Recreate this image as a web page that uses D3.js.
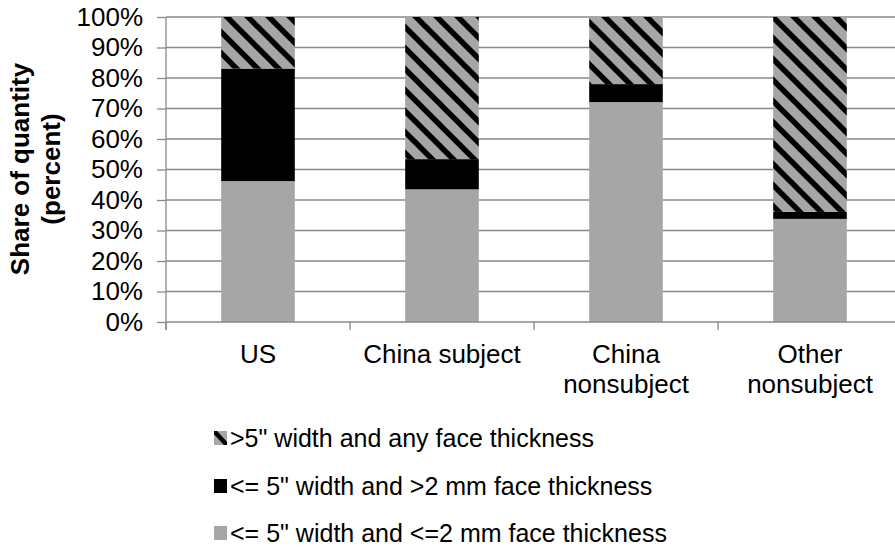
<!DOCTYPE html>
<html>
<head>
<meta charset="utf-8">
<script src="https://cdn.jsdelivr.net/npm/d3@7/dist/d3.min.js"></script>
<style>
  html, body { margin: 0; padding: 0; background: #fff; }
  svg { display: block; font-family: "Liberation Sans", Arial, Helvetica, sans-serif; }
</style>
</head>
<body>
<svg id="chart" width="895" height="548"></svg>
<script>
// Categories and stacked shares (percent of quantity)
const categories = ["US", "China subject", "China nonsubject", "Other nonsubject"];
const categoryLabels = [["US"], ["China subject"], ["China", "nonsubject"], ["Other", "nonsubject"]];
const thinFace = [46.2, 43.5, 72.1, 33.8];   // <= 5" width and <=2 mm face thickness
const thickFace = [36.9, 9.9, 5.9, 2.3];     // <= 5" width and >2 mm face thickness
const wideAny = [16.9, 46.6, 22.0, 63.9];    // >5" width and any face thickness
const yTicks = [0, 10, 20, 30, 40, 50, 60, 70, 80, 90, 100];

const seriesNames = [
  "<= 5\" width and <=2 mm face thickness",
  "<= 5\" width and >2 mm face thickness",
  ">5\" width and any face thickness"
];
const seriesKeys = ["thin", "thick", "wide"];

const rows = categories.map((c, i) => ({
  category: c,
  thin: thinFace[i],
  thick: thickFace[i],
  wide: wideAny[i]
}));

const svg = d3.select("#chart");
const plotLeft = 166, plotRight = 902, plotTop = 17, plotBottom = 322;
const fontSize = 26;

const x = d3.scaleBand().domain(categories).range([plotLeft, plotRight]).paddingInner(0.6).paddingOuter(0.3);
const y = d3.scaleLinear().domain([0, 100]).range([plotBottom, plotTop]);

const grey = "#a6a6a6";
const axisGrey = "#898989";

// Diagonal hatch used for the ">5 inch" segment
const defs = svg.append("defs");
const pat = defs.append("pattern")
  .attr("id", "hatch")
  .attr("patternUnits", "userSpaceOnUse")
  .attr("width", 21).attr("height", 21);
pat.append("rect").attr("width", 21).attr("height", 21).attr("fill", grey);
pat.append("path")
  .attr("d", "M-6,-6L27,27M-6,15L6,27M15,-6L27,6")
  .attr("stroke", "#000").attr("stroke-width", 5.5);

const fills = { thin: grey, thick: "#000", wide: "url(#hatch)" };

// Horizontal gridlines
svg.append("g")
  .selectAll("line")
  .data(yTicks.filter(d => d > 0))
  .join("line")
  .attr("x1", plotLeft).attr("x2", plotRight)
  .attr("y1", d => y(d)).attr("y2", d => y(d))
  .attr("stroke", axisGrey).attr("stroke-width", 1.3);

// Stacked bars
const stack = d3.stack().keys(seriesKeys);
const layers = stack(rows);
svg.append("g")
  .selectAll("g")
  .data(layers)
  .join("g")
  .attr("fill", d => fills[d.key])
  .selectAll("rect")
  .data(d => d)
  .join("rect")
  .attr("x", d => x(d.data.category))
  .attr("width", x.bandwidth())
  .attr("y", d => y(d[1]))
  .attr("height", d => y(d[0]) - y(d[1]));

// Y axis
const yAxis = svg.append("g")
  .attr("transform", `translate(${plotLeft},0)`)
  .call(d3.axisLeft(y).tickValues(yTicks).tickFormat(d => d + "%").tickSize(9).tickPadding(14));
yAxis.select(".domain").attr("stroke", axisGrey).attr("stroke-width", 1.3)
  .attr("d", `M0,${plotTop}V${plotBottom + 8}`);
yAxis.selectAll(".tick line").attr("stroke", axisGrey).attr("stroke-width", 1.3);
yAxis.selectAll(".tick text").attr("font-size", fontSize).attr("fill", "#000")
  .attr("font-family", "Liberation Sans, Arial, sans-serif");

// X axis baseline and band boundary ticks
const boundaries = d3.range(categories.length + 1).map(i => plotLeft + i * x.step());
svg.append("line")
  .attr("x1", plotLeft).attr("x2", plotRight).attr("y1", plotBottom).attr("y2", plotBottom)
  .attr("stroke", axisGrey).attr("stroke-width", 1.3);
svg.append("g").selectAll("line").data(boundaries).join("line")
  .attr("x1", d => d).attr("x2", d => d)
  .attr("y1", plotBottom).attr("y2", plotBottom + 8)
  .attr("stroke", axisGrey).attr("stroke-width", 1.3);

// Category labels
const xAxis = svg.append("g")
  .attr("transform", `translate(0,${plotBottom})`)
  .call(d3.axisBottom(x).tickSize(0));
xAxis.select(".domain").remove();
xAxis.selectAll(".tick text")
  .attr("font-size", fontSize).attr("fill", "#000").attr("y", 0).attr("dy", null)
  .attr("font-family", "Liberation Sans, Arial, sans-serif")
  .each(function(d, i) {
    const t = d3.select(this).text(null);
    categoryLabels[i].forEach((line, j) => {
      t.append("tspan").attr("x", 0).attr("y", 41 + j * 30).text(line);
    });
  });

// Y axis title
svg.append("text")
  .attr("transform", "translate(0,169) rotate(-90)")
  .attr("text-anchor", "middle")
  .attr("font-size", fontSize).attr("font-weight", "bold")
  .selectAll("tspan")
  .data(["Share of quantity", "(percent)"])
  .join("tspan")
  .attr("x", 0)
  .attr("y", (d, i) => 29 + i * 31)
  .text(d => d);

// Legend (top to bottom: hatched, black, grey)
const legendItems = [
  { name: seriesNames[2], key: "wide" },
  { name: seriesNames[1], key: "thick" },
  { name: seriesNames[0], key: "thin" }
];
const legendRows = [438, 486, 533];
const legend = svg.append("g");
const clip = defs.append("clipPath").attr("id", "iconClip");
clip.append("rect").attr("x", 214).attr("y", legendRows[0] - 7).attr("width", 13).attr("height", 14);
legendItems.forEach((item, i) => {
  const cy = legendRows[i];
  const g = legend.append("g");
  if (item.key === "wide") {
    g.append("rect").attr("x", 214).attr("y", cy - 7).attr("width", 13).attr("height", 14).attr("fill", grey);
    g.append("line")
      .attr("x1", 214).attr("y1", cy - 7).attr("x2", 227).attr("y2", cy + 7)
      .attr("stroke", "#000").attr("stroke-width", 4.5)
      .attr("clip-path", "url(#iconClip)");
  } else {
    g.append("rect").attr("x", 214).attr("y", cy - 7).attr("width", 13).attr("height", 14)
      .attr("fill", fills[item.key]);
  }
  g.append("text")
    .attr("x", 230).attr("y", cy).attr("dy", "0.35em")
    .attr("font-size", fontSize - 1).attr("fill", "#000")
    .text(item.name);
});
</script>
</body>
</html>
